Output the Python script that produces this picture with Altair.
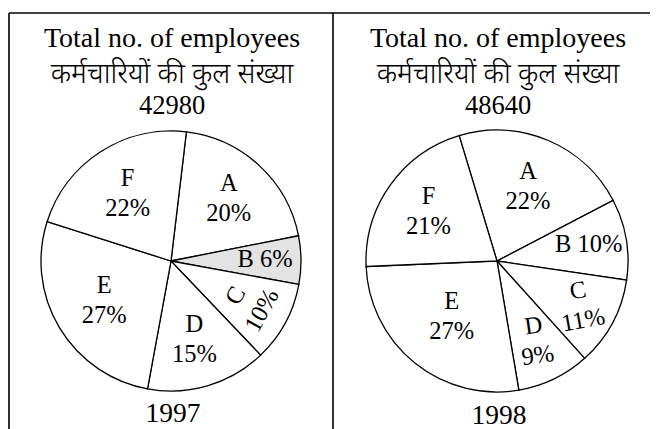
import math
import altair as alt
import pandas as pd

categories = ["A", "B", "C", "D", "E", "F"]
pct_1997 = [20, 6, 10, 15, 27, 22]
pct_1998 = [22, 10, 11, 9, 27, 21]
years = ["1997", "1998"]
totals = ["42980", "48640"]
title_en = "Total no. of employees"
title_hi = "कर्मचारियों की कुल संख्या"

SERIF = "Liberation Serif"
HINDI = "Noto Sans Devanagari, Noto Sans, sans-serif"
H = 416
CY = 248


def cat_expr(mapping, default):
    expr = str(default)
    for c, r in mapping.items():
        expr = f"datum.cat == '{c}' ? {r} : ({expr})"
    return expr


def panel(pcts, year, total, start_deg, width, cx, radius, gray_b, amap, year_base, rmap):
    df = pd.DataFrame({"cat": categories, "pct": pcts})
    df["label"] = [f"{c} {p}%" if c == "B" else f"{c}\n{p}%" for c, p in zip(categories, pcts)]
    start = math.radians(start_deg)
    tscale = alt.Scale(domain=[0, 100], range=[start, start + 2 * math.pi])
    base = alt.Chart(df)
    if gray_b:
        fill = alt.condition("datum.cat == 'B'", alt.value("#e3e3e3"), alt.value("white"))
    else:
        fill = alt.value("white")
    arcs = base.mark_arc(radius=radius, stroke="black", strokeWidth=1.3).encode(
        theta=alt.Theta("pct:Q", stack=True, scale=tscale),
        order=alt.Order("cat:N", sort="ascending"),
        fill=fill, x=alt.value(cx), y=alt.value(CY)
    )
    labels = base.transform_window(
        cum="sum(pct)", sort=[alt.SortField("cat", order="ascending")]
    ).transform_calculate(
        mid="datum.cum - datum.pct / 2",
        lr=cat_expr(rmap, 82),
        ang=cat_expr(amap, 0),
    ).mark_text(font=SERIF, fontSize=24.5, lineBreak="\n", lineHeight=30,
                color="black", baseline="middle",
                dy={"expr": "datum.cat == 'B' ? 0 : -15"}).encode(
        theta=alt.Theta("mid:Q", stack=None, scale=tscale),
        text="label:N",
        radius=alt.Radius("lr:Q", scale=None),
        angle=alt.Angle("ang:Q", scale=None),
        x=alt.value(cx), y=alt.value(CY),
    )
    one = alt.Chart(pd.DataFrame({"en": [title_en], "hi": [title_hi],
                                  "tot": [total], "yr": [year]}))
    t1 = one.mark_text(font=SERIF, fontSize=28, baseline="alphabetic", color="black").encode(
        text="en:N", x=alt.value(cx + 1), y=alt.value(34))
    t2 = one.mark_text(font=HINDI, fontSize=28, fontWeight=300, baseline="alphabetic",
                       color="black").encode(
        text="hi:N", x=alt.value(cx + 1), y=alt.value(70))
    t3 = one.mark_text(font=SERIF, fontSize=26.5, baseline="alphabetic", color="black").encode(
        text="tot:N", x=alt.value(cx + 1), y=alt.value(101))
    t4 = one.mark_text(font=SERIF, fontSize=27.5, baseline="alphabetic", color="black").encode(
        text="yr:N", x=alt.value(cx + 2), y=alt.value(year_base))
    top = one.mark_rule(color="black", strokeWidth=1.6).encode(
        x=alt.value(0), x2=alt.value(width), y=alt.value(0))
    left = one.mark_rule(color="black", strokeWidth=1.6).encode(
        x=alt.value(0), y=alt.value(0), y2=alt.value(H))
    return alt.layer(arcs, labels, t1, t2, t3, t4, top, left).properties(width=width, height=H)


p1 = panel(pct_1997, years[0], totals[0], 6.8, 324, 162, 130, True, {"C": 299}, 409,
           {"F": 80, "A": 85, "B": 94, "C": 89, "D": 82, "E": 78})
p2 = panel(pct_1998, years[1], totals[1], 343.2, 317, 164, 131, False, {"C": 350, "D": 352}, 411,
           {"F": 84, "A": 80, "B": 93, "C": 95, "D": 89, "E": 72})

chart = alt.hconcat(p1, p2, spacing=0, bounds="flush").resolve_scale(
    theta="independent").configure_view(stroke=None).properties(
    padding={"left": 0, "top": 4, "right": 0, "bottom": 0})

chart.save("out.html", embed_options={"renderer": "svg", "actions": False})
